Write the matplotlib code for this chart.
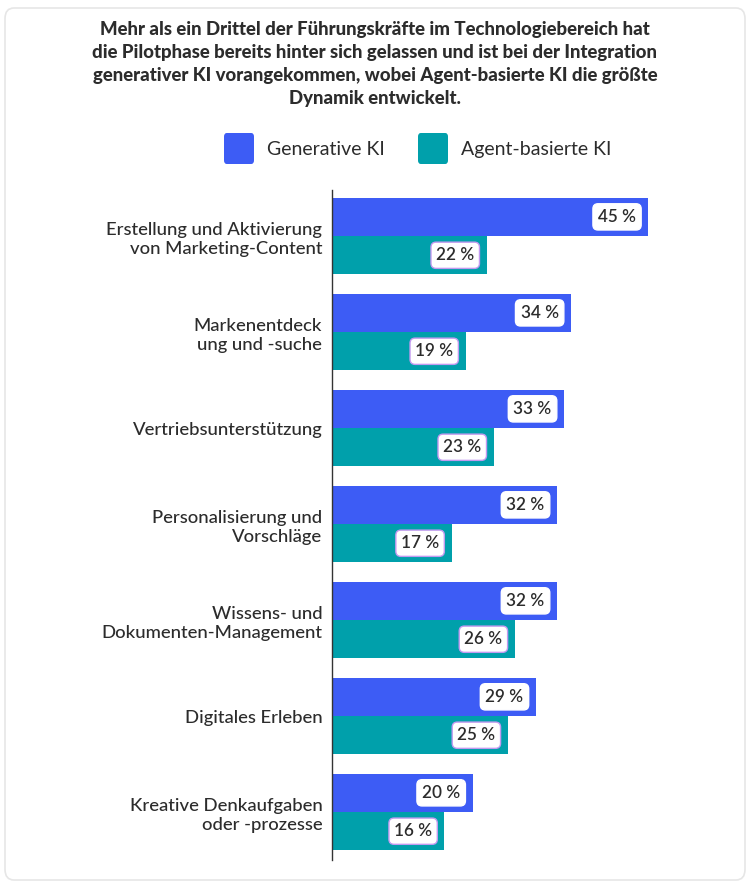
import numpy as np
import matplotlib.pyplot as plt
from matplotlib.patches import FancyBboxPatch

plt.rcParams['font.family'] = ['Lato', 'DejaVu Sans']

categories = [
    "Erstellung und Aktivierung\nvon Marketing-Content",
    "Markenentdeck\nung und -suche",
    "Vertriebsunterstützung",
    "Personalisierung und\nVorschläge",
    "Wissens- und\nDokumenten-Management",
    "Digitales Erleben",
    "Kreative Denkaufgaben\noder -prozesse",
]
generative = [45, 34, 33, 32, 32, 29, 20]
agent = [22, 19, 23, 17, 26, 25, 16]
series_names = ["Generative KI", "Agent-basierte KI"]

title = ("Mehr als ein Drittel der Führungskräfte im Technologiebereich hat\n"
         "die Pilotphase bereits hinter sich gelassen und ist bei der Integration\n"
         "generativer KI vorangekommen, wobei Agent-basierte KI die größte\n"
         "Dynamik entwickelt.")

BLUE = '#3d5cf5'
TEAL = '#00a0ab'
TEXT = '#2c2c2c'

W, H = 750, 884
fig = plt.figure(figsize=(W / 100, H / 100), dpi=100)

# rounded card border, behind everything
card = FancyBboxPatch((5 / W, 4 / H), 740 / W, 872 / H,
                      boxstyle='round,pad=0,rounding_size=0.012',
                      transform=fig.transFigure, facecolor='white',
                      edgecolor='#e6e6e6', linewidth=1.2, zorder=-5)
fig.patches.append(card)

# axes: left edge at px 332, ~7.03 px per percent
xmax = 55
ax = fig.add_axes([332 / W, 1 - 860 / H, xmax * 7.03 / W, 670 / H])
ax.set_facecolor('none')

y = np.arange(len(categories))
h = 0.4
ax.barh(y - h / 2, generative, height=h, color=BLUE)
ax.barh(y + h / 2, agent, height=h, color=TEAL)

ax.set_xlim(0, xmax)
ax.set_ylim(6.5, -0.48)

for s in ['top', 'right', 'bottom']:
    ax.spines[s].set_visible(False)
ax.spines['left'].set_color('#333333')
ax.spines['left'].set_linewidth(1)
ax.set_xticks([])
ax.set_yticks(y)
ax.set_yticklabels(categories, fontsize=13.3, color=TEXT, linespacing=1.3,
                   fontweight='medium')
ax.tick_params(axis='y', length=0, pad=7)

# value labels
for vals, off, edge in [(generative, -h / 2, 'white'), (agent, h / 2, '#c39af0')]:
    for i, v in enumerate(vals):
        ax.text(v - 1.75, i + off, f"{v} %", ha='right', va='center',
                fontsize=12.3, fontweight='semibold', color=TEXT,
                bbox=dict(boxstyle='round,pad=0.3,rounding_size=0.3',
                          facecolor='white', edgecolor=edge, linewidth=1))

# title
fig.text(0.5, 1 - 21 / H, title, ha='center', va='top', fontsize=13.4,
         fontweight='black', color=TEXT, linespacing=1.42)

# legend
for x0, name, col in [(224, series_names[0], BLUE), (418, series_names[1], TEAL)]:
    sq = FancyBboxPatch((x0 / W, 1 - 164 / H), 30 / W, 31 / H,
                        boxstyle='round,pad=0,rounding_size=0.004',
                        transform=fig.transFigure, facecolor=col, edgecolor='none')
    fig.patches.append(sq)
    fig.text((x0 + 43) / W, 1 - 149 / H, name, ha='left', va='center',
             fontsize=14, color=TEXT)

fig.savefig('out.png', dpi=100)
